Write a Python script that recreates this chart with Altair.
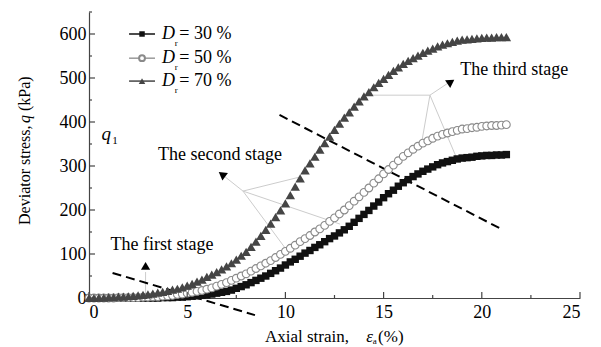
import altair as alt
import pandas as pd

# Axial strain sampling points (%)
strain = [
    0, 0.25, 0.5, 0.75, 1, 1.25, 1.5, 1.75, 2, 2.25, 2.5, 2.75,
    3, 3.25, 3.5, 3.75, 4, 4.25, 4.5, 4.75, 5, 5.25, 5.5, 5.75,
    6, 6.25, 6.5, 6.75, 7, 7.25, 7.5, 7.75, 8, 8.25, 8.5, 8.75,
    9, 9.25, 9.5, 9.75, 10, 10.25, 10.5, 10.75, 11, 11.25, 11.5, 11.75,
    12, 12.25, 12.5, 12.75, 13, 13.25, 13.5, 13.75, 14, 14.25, 14.5, 14.75,
    15, 15.25, 15.5, 15.75, 16, 16.25, 16.5, 16.75, 17, 17.25, 17.5, 17.75,
    18, 18.25, 18.5, 18.75, 19, 19.25, 19.5, 19.75, 20, 20.25, 20.5, 20.75,
    21, 21.25,
]

# Deviator stress q (kPa) for each relative density
q_dr30 = [
    0, 0, 0, 0, 0, 0, 0, 0, 0, 0, 0, 0,
    0, 0, 0, 1, 1, 1, 2, 2, 3, 4, 5, 6,
    7, 9, 11, 13, 15, 18, 22, 26, 30, 35, 40, 45,
    50, 56, 62, 68, 75, 82, 88, 95, 102, 108, 115, 121,
    128, 135, 141, 148, 155, 163, 172, 181, 190, 199, 209, 218,
    228, 237, 245, 254, 262, 269, 276, 282, 288, 293, 298, 303,
    307, 310, 313, 316, 318, 319, 320, 322, 323, 324, 324, 325,
    325, 326,
]
q_dr50 = [
    0, 0, 0, 0, 0, 0, 1, 1, 1, 1, 1, 2,
    2, 3, 3, 4, 5, 6, 8, 9, 11, 13, 15, 17,
    20, 23, 27, 31, 35, 40, 45, 50, 55, 61, 67, 73,
    79, 85, 92, 99, 106, 113, 120, 128, 135, 142, 150, 157,
    165, 174, 182, 191, 200, 210, 220, 230, 240, 250, 261, 271,
    282, 292, 302, 312, 322, 330, 338, 345, 352, 357, 363, 368,
    372, 375, 378, 381, 384, 385, 387, 388, 390, 391, 392, 392,
    393, 394,
]
q_dr70 = [
    0, 0, 1, 1, 2, 2, 3, 3, 4, 5, 6, 7,
    8, 10, 12, 14, 16, 19, 21, 24, 28, 32, 37, 42,
    48, 53, 59, 65, 72, 79, 87, 96, 105, 116, 128, 141,
    155, 169, 184, 199, 215, 234, 253, 272, 290, 306, 321, 337,
    352, 367, 382, 396, 410, 422, 435, 447, 458, 468, 479, 489,
    498, 507, 516, 524, 532, 539, 545, 551, 557, 562, 567, 572,
    576, 579, 582, 585, 587, 588, 589, 590, 591, 592, 592, 593,
    593, 593,
]

x_major = [0, 5, 10, 15, 20, 25]
x_minor = [2.5, 7.5, 12.5, 17.5, 22.5]
y_major = [0, 100, 200, 300, 400, 500, 600]
y_minor = [50, 150, 250, 350, 450, 550, 650]

# Stage boundary lines (dashed)
dash_x1 = [1.2, 9.7]
dash_y1 = [57, 416]
dash_x2 = [8.45, 20.9]
dash_y2 = [-39, 159]

# Leader lines for the stage annotations
lead_x1 = [2.88, 7.84, 7.84, 7.84, 7.84, 17.36, 17.36, 17.36, 17.36]
lead_y1 = [59, 243, 243, 243, 243, 461, 461, 461, 461]
lead_x2 = [2.88, 6.77, 10.74, 12.78, 9.98, 18.4, 14.4, 16.96, 18.7]
lead_y2 = [5, 281, 275, 168, 114, 492, 461, 359, 320]

# Arrow heads
arrow_x = [2.88, 6.77, 18.43]
arrow_y = [73, 281, 491]
arrow_angle = [0, 307, 56]

stage_text = ["The first stage", "The second stage", "The third stage"]
stage_x = [3.72, 6.67, 18.9]
stage_y = [120, 325, 518]
stage_align = ["center", "center", "left"]

legend_labels = ["= 30 %", "= 50 %", "= 70 %"]
legend_y = [600, 545, 493]

FONT = "'Liberation Serif', 'Times New Roman', 'DejaVu Serif', serif"
W, H = 491, 286
xs = alt.Scale(domain=[0, 25], nice=False, zero=False)
ys = alt.Scale(domain=[0, 650], nice=False, zero=False)

df30 = pd.DataFrame({"strain": strain, "q": q_dr30})
df50 = pd.DataFrame({"strain": strain, "q": q_dr50})
df70 = pd.DataFrame({"strain": strain, "q": q_dr70})

X = lambda f: alt.X(f, type="quantitative", scale=xs, title=None)
Y = lambda f: alt.Y(f, type="quantitative", scale=ys, title=None)

axis_layer = alt.Chart(df30).mark_point(opacity=0).encode(
    x=alt.X("strain:Q", scale=xs, title=None,
            axis=alt.Axis(values=x_major, labelPadding=5)),
    y=alt.Y("q:Q", scale=ys, title=None,
            axis=alt.Axis(values=y_major, labelPadding=3)),
)

sq = alt.Chart(df30).mark_point(shape="square", filled=True, size=55,
                                color="#111111", opacity=1).encode(x=X("strain"), y=Y("q"))
ci = alt.Chart(df50).mark_point(shape="circle", filled=False, size=60,
                                color="#8a8a8a", strokeWidth=1.1, opacity=1,
                                fill="white", fillOpacity=1).encode(x=X("strain"), y=Y("q"))
tr = alt.Chart(df70).mark_point(shape="triangle-up", filled=True, size=90,
                                color="#454545", opacity=1).encode(x=X("strain"), y=Y("q"))

# Inward tick marks
xticks_major = alt.Chart(pd.DataFrame({"v": x_major})).mark_rule(color="#444", strokeWidth=1.2).encode(
    x=X("v"), y=alt.value(H), y2=alt.value(H - 6))
xticks_minor = alt.Chart(pd.DataFrame({"v": x_minor})).mark_rule(color="#444", strokeWidth=1.2).encode(
    x=X("v"), y=alt.value(H), y2=alt.value(H - 3))
yticks_major = alt.Chart(pd.DataFrame({"v": y_major})).mark_rule(color="#444", strokeWidth=1.2).encode(
    y=Y("v"), x=alt.value(0), x2=alt.value(6))
yticks_minor = alt.Chart(pd.DataFrame({"v": y_minor})).mark_rule(color="#444", strokeWidth=1.2).encode(
    y=Y("v"), x=alt.value(0), x2=alt.value(3))

dashes = alt.Chart(pd.DataFrame({"x": dash_x1, "y": dash_y1, "x2": dash_x2, "y2": dash_y2})).mark_rule(
    color="black", strokeWidth=2, strokeDash=[9, 5]).encode(
    x=X("x"), y=Y("y"), x2="x2:Q", y2="y2:Q")

leaders = alt.Chart(pd.DataFrame({"x": lead_x1, "y": lead_y1, "x2": lead_x2, "y2": lead_y2})).mark_rule(
    color="#cccccc", strokeWidth=1).encode(
    x=X("x"), y=Y("y"), x2="x2:Q", y2="y2:Q")

arrows = alt.Chart(pd.DataFrame({"x": arrow_x, "y": arrow_y, "a": arrow_angle})).mark_point(
    shape="triangle-up", filled=True, size=85, color="black", opacity=1).encode(
    x=X("x"), y=Y("y"), angle=alt.Angle("a:Q", scale=None))


def text_layer(xv, yv, txt, size=18, style="normal", align="left", angle=0):
    return alt.Chart(pd.DataFrame({"x": [xv], "y": [yv], "t": [txt]})).mark_text(
        font=FONT, fontSize=size, fontStyle=style, color="black", align=align,
        baseline="middle", angle=angle).encode(x=X("x"), y=Y("y"), text="t:N")


stage_labels = alt.layer(*[
    text_layer(stage_x[i], stage_y[i], stage_text[i], 18, align=stage_align[i])
    for i in range(3)
])

q1 = alt.layer(text_layer(0.64, 372, "q", 19, "italic"), text_layer(1.18, 356, "1", 11))

# Legend
leg_df = pd.DataFrame({"x1": [2.04] * 3, "x2": [3.36] * 3, "xm": [2.7] * 3, "y": legend_y})
leg_lines = alt.layer(
    alt.Chart(leg_df.iloc[[0]]).mark_rule(color="#111111", strokeWidth=1.5).encode(x=X("x1"), x2="x2:Q", y=Y("y")),
    alt.Chart(leg_df.iloc[[1]]).mark_rule(color="#9a9a9a", strokeWidth=1.5).encode(x=X("x1"), x2="x2:Q", y=Y("y")),
    alt.Chart(leg_df.iloc[[2]]).mark_rule(color="#454545", strokeWidth=1.5).encode(x=X("x1"), x2="x2:Q", y=Y("y")),
    alt.Chart(leg_df.iloc[[0]]).mark_point(shape="square", filled=True, size=30, color="#111111", opacity=1).encode(x=X("xm"), y=Y("y")),
    alt.Chart(leg_df.iloc[[1]]).mark_point(shape="circle", filled=False, size=34, color="#8a8a8a", fill="white",
                                           fillOpacity=1, opacity=1).encode(x=X("xm"), y=Y("y")),
    alt.Chart(leg_df.iloc[[2]]).mark_point(shape="triangle-up", filled=True, size=42, color="#454545", opacity=1).encode(x=X("xm"), y=Y("y")),
)
leg_text = alt.layer(*(
    [text_layer(3.72, yy, "D", 18, "italic") for yy in legend_y]
    + [text_layer(4.36, yy - 21, "r", 9) for yy in legend_y]
    + [text_layer(4.6, yy, lab, 18) for yy, lab in zip(legend_y, legend_labels)]
))

# Axis titles with italic symbols
x_title = alt.layer(
    text_layer(8.96, -88, "Axial strain,", 17),
    text_layer(14.12, -88, "ε", 17, "italic"),
    text_layer(14.45, -97, "a", 9),
    text_layer(14.72, -88, "(%)", 17),
)
y_title = alt.layer(
    text_layer(-3.26, 166, "Deviator stress,", 16, angle=270),
    text_layer(-3.26, 398, "q", 16, "italic", angle=270),
    text_layer(-3.26, 425, "(kPa)", 16, angle=270),
)

chart = alt.layer(
    axis_layer, leaders, dashes, sq, ci, tr, arrows,
    xticks_major, xticks_minor, yticks_major, yticks_minor,
    stage_labels, q1, leg_lines, leg_text, x_title, y_title,
).properties(
    width=W, height=H,
    background="white",
    autosize=alt.AutoSizeParams(type="none"),
    padding={"left": 89, "top": 12, "right": 21, "bottom": 49},
).configure_view(stroke=None).configure_axis(
    grid=False, tickSize=0, domainColor="#444444", domainWidth=1.2,
    labelFont=FONT, labelFontSize=18, labelColor="black",
)

chart.save("out.html", embed_options={"renderer": "svg", "actions": False})
